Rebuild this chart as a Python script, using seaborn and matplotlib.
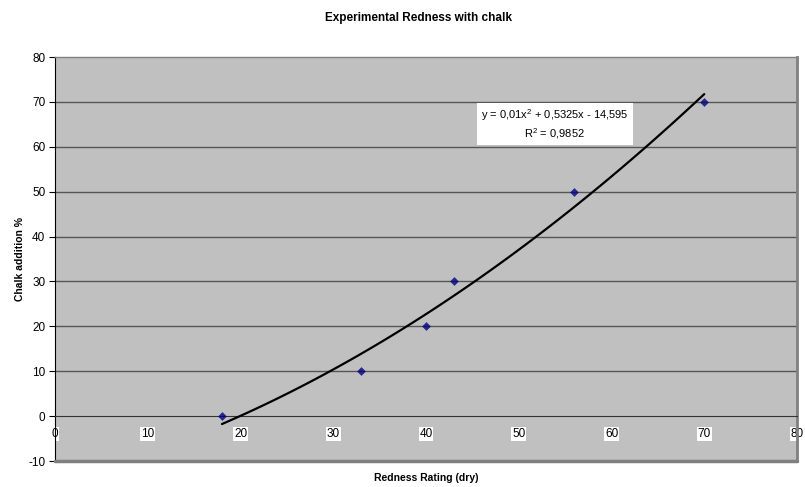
import matplotlib
matplotlib.use("Agg")
import matplotlib.pyplot as plt
import seaborn as sns
import numpy as np
import pandas as pd

redness = [18, 33, 40, 43, 56, 70]
chalk = [0, 10, 20, 30, 50, 70]
x_ticks = [0, 10, 20, 30, 40, 50, 60, 70, 80]
y_ticks = [-10, 0, 10, 20, 30, 40, 50, 60, 70, 80]
eq_text = "y = 0,01x$^{2}$ + 0,5325x - 14,595\nR$^{2}$ = 0,9852"

sns.set_style("white")
plt.rcParams['font.family'] = ['Liberation Sans', 'DejaVu Sans']
plt.rcParams['mathtext.fontset'] = 'custom'
plt.rcParams['mathtext.rm'] = 'Liberation Sans'
plt.rcParams['mathtext.it'] = 'Liberation Sans'
plt.rcParams['text.color'] = 'black'
plt.rcParams['axes.labelcolor'] = 'black'
plt.rcParams['xtick.color'] = 'black'
plt.rcParams['ytick.color'] = 'black'
plt.rcParams['axes.unicode_minus'] = False

df = pd.DataFrame({"Redness": redness, "Chalk": chalk})

fig = plt.figure(figsize=(8.05, 4.87), dpi=100)
ax = fig.add_axes([55/805, 26/487, 742/805, 404/487])
ax.set_facecolor("#C0C0C0")

sns.regplot(data=df, x="Redness", y="Chalk", order=2, ci=None, truncate=True,
            marker="D",
            scatter_kws=dict(s=20, color="#000080", zorder=4, linewidths=0),
            line_kws=dict(color="black", lw=1.6, zorder=3), ax=ax)

ax.set_xlim(0, 80)
ax.set_ylim(-10, 80)
ax.set_xticks(x_ticks)
ax.set_yticks(y_ticks)
for yv in y_ticks[2:-1]:
    ax.axhline(yv, color="#555555", lw=1, zorder=1)

ax.spines['bottom'].set_position(('data', 0))
ax.spines['bottom'].set_color('#333333')
ax.spines['left'].set_color('black')
ax.spines['top'].set_color('#808080')
ax.spines['right'].set_color('#808080')
ax.spines['right'].set_linewidth(2)
ax.spines['top'].set_linewidth(1)
ax.axhline(-10, color='#808080', lw=2.5, clip_on=False, zorder=5)

ax.tick_params(axis='x', direction='in', length=4, labelsize=8.5, pad=8.5, color='#333333')
ax.tick_params(axis='y', direction='out', length=4, labelsize=8.5, pad=3, left=True)
for lab in ax.get_xticklabels():
    lab.set_bbox(dict(facecolor='white', edgecolor='none', pad=0.6))

ax.set_xlabel("Redness Rating (dry)", fontsize=7.5, fontweight='bold')
ax.set_ylabel("Chalk addition %", fontsize=7.5, fontweight='bold')
ax.xaxis.set_label_coords(0.5, -0.03)
ax.yaxis.set_label_coords(-0.04, 0.5)
ax.set_title("Experimental Redness with chalk", fontsize=8.5, fontweight='bold', pad=26, x=0.49)

ax.text(53.9, 65.0, eq_text, ha='center', va='center', fontsize=8,
        linespacing=1.25,
        bbox=dict(facecolor='white', edgecolor='none', pad=3), zorder=6)

fig.savefig("out.png", dpi=100)
